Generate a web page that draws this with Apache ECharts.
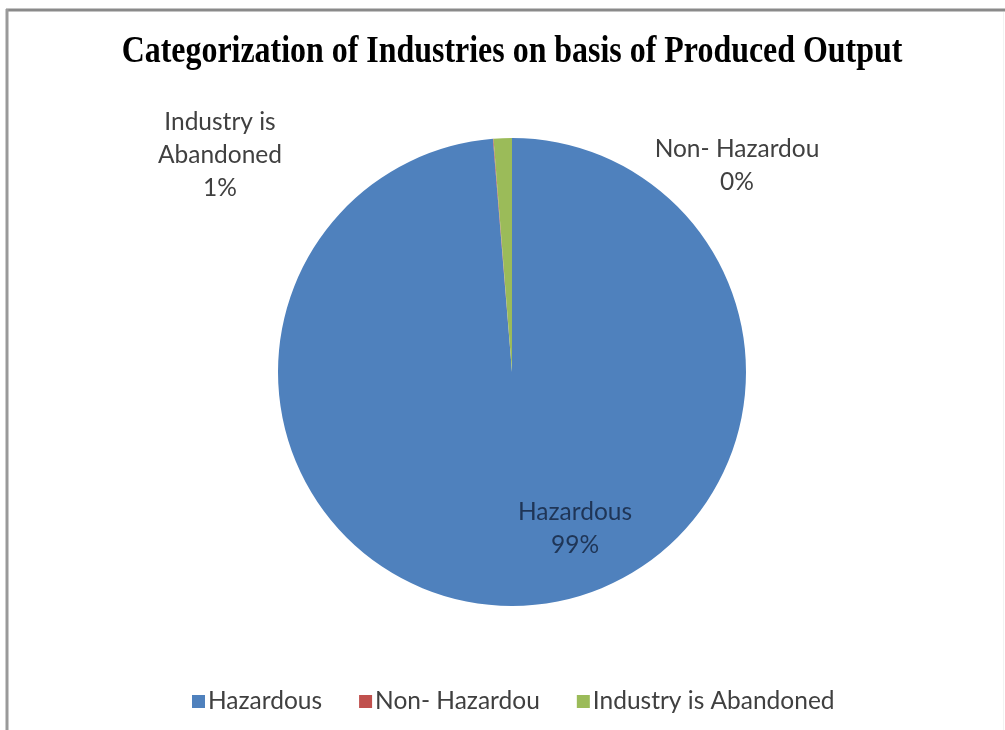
<!DOCTYPE html>
<html>
<head>
<meta charset="utf-8">
<script src="https://cdn.jsdelivr.net/npm/echarts@6/dist/echarts.min.js"></script>
<style>
html,body{margin:0;padding:0;background:#fff;}
#chart{width:1005px;height:730px;}
</style>
</head>
<body>
<div id="chart"></div>
<script>
const titleText = 'Categorization of Industries on basis of Produced Output';
const categories = ['Hazardous', 'Non- Hazardou', 'Industry is Abandoned'];
const labelNames = ['Hazardous', 'Non- Hazardou', 'Industry is\nAbandoned'];
const values = [98.7, 0.04, 1.26];
const colors = ['#4F81BD', '#C0504D', '#9BBB59'];
const labelPositions = [[575, 529], [737, 166], [220, 155]];
const labelColors = ['#1f3556', '#404040', '#404040'];

const chart = echarts.init(document.getElementById('chart'));
const option = {
  backgroundColor: '#fff',
  animation: false,
  color: colors,
  graphic: [
    { type: 'line', shape: { x1: 6, y1: 10, x2: 1005, y2: 10 }, style: { stroke: '#8a8a8a', lineWidth: 3 } },
    { type: 'line', shape: { x1: 7, y1: 9, x2: 7, y2: 730 }, style: { stroke: '#9a9a9a', lineWidth: 3 } },
    { type: 'line', shape: { x1: 1003.5, y1: 12, x2: 1003.5, y2: 730 }, style: { stroke: '#f2f2f2', lineWidth: 1 } },
    {
      type: 'text', x: 512, y: 52, scaleX: 0.84,
      style: { text: titleText, font: 'bold 38px "Liberation Serif"', fill: '#000', textAlign: 'center', textVerticalAlign: 'middle' }
    }
  ],
  legend: {
    left: 187, top: 684,
    itemWidth: 13, itemHeight: 13, itemGap: 37,
    icon: 'rect',
    textStyle: { fontFamily: 'Lato', fontSize: 24.5, color: '#404040', padding: [0, 0, 0, -2] },
    data: categories
  },
  series: [{
    type: 'pie',
    center: [512, 372],
    radius: 234,
    startAngle: 90,
    clockwise: true,
    avoidLabelOverlap: false,
    minShowLabelAngle: 0,
    data: categories.map((c, i) => ({
      name: c, value: values[i],
      label: { color: labelColors[i] }
    })),
    label: {
      show: true,
      position: 'outside',
      fontFamily: 'Lato',
      fontSize: 24.5,
      lineHeight: 33,
      align: 'center',
      formatter: p => labelNames[p.dataIndex] + '\n' + Math.round(p.percent) + '%'
    },
    labelLine: { show: false },
    labelLayout: p => ({
      x: labelPositions[p.dataIndex][0],
      y: labelPositions[p.dataIndex][1],
      align: 'center',
      verticalAlign: 'middle'
    }),
    itemStyle: { borderWidth: 0 },
    emphasis: { disabled: true }
  }]
};
chart.setOption(option);
</script>
</body>
</html>
